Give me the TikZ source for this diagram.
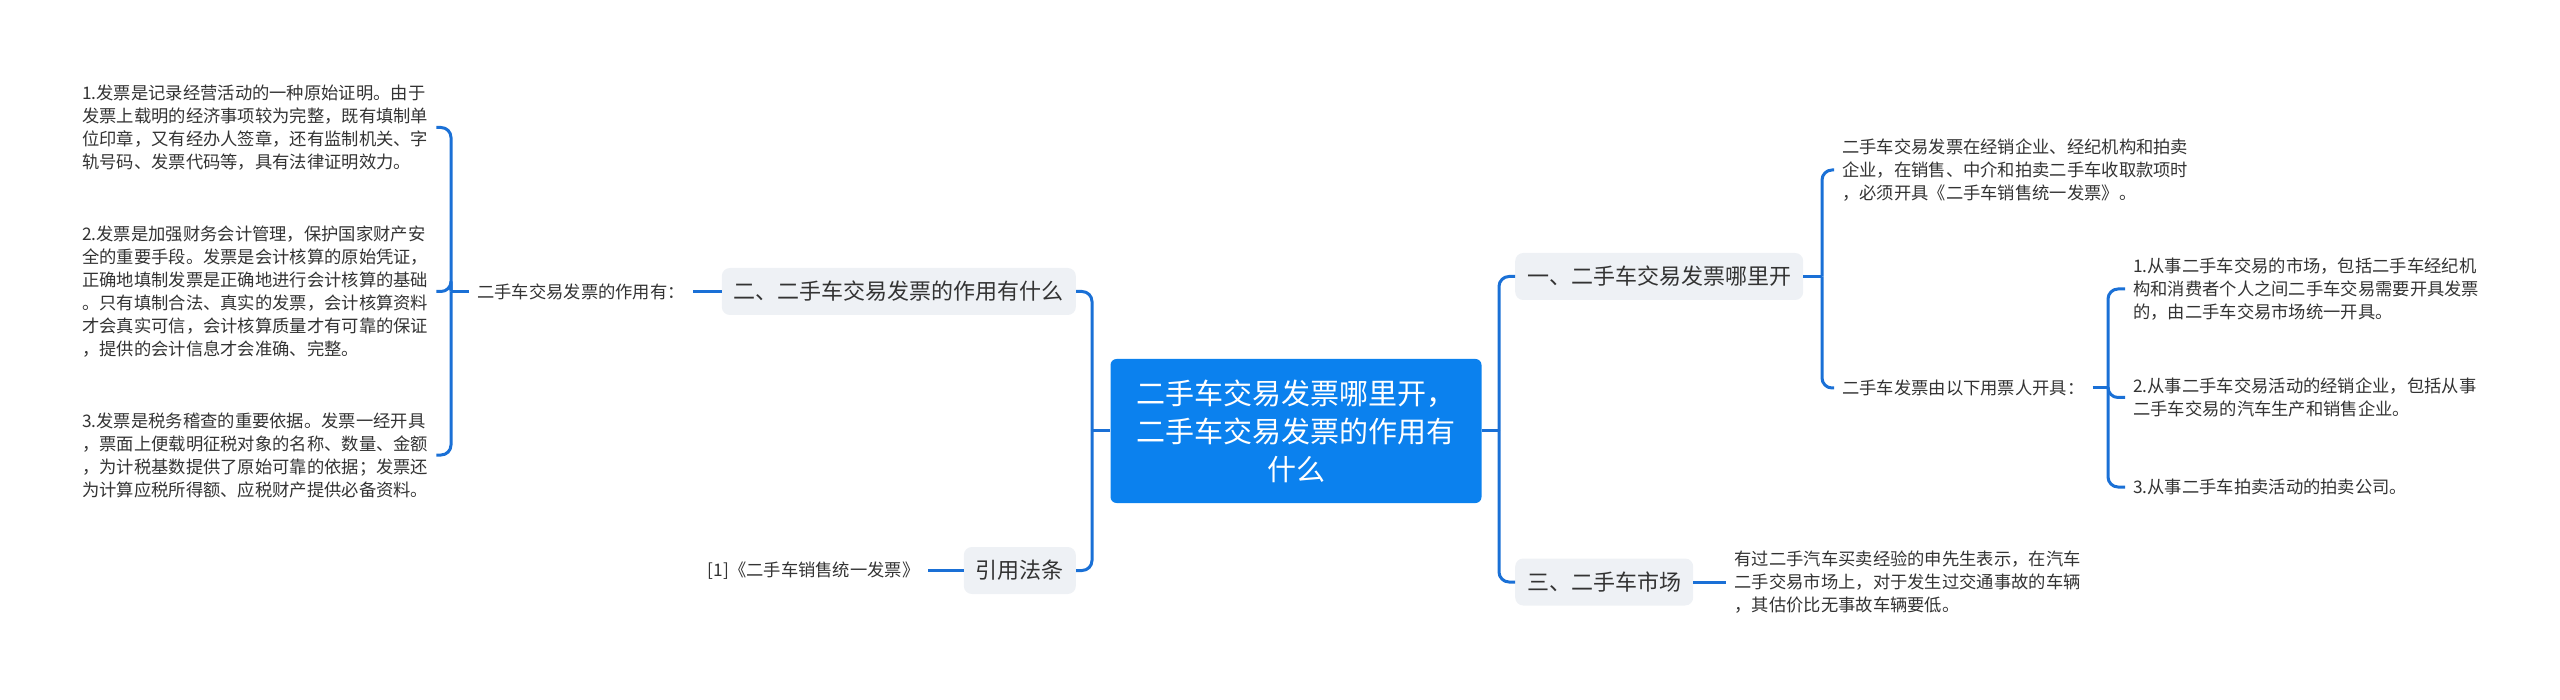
\documentclass[tikz,border=0pt]{standalone}
\usepackage{fontspec}
\setmainfont{Noto Sans CJK SC}
\usepackage{tikz}
\usetikzlibrary{positioning,calc}
\definecolor{rootblue}{HTML}{0B81EE}
\definecolor{linkblue}{HTML}{1A70D6}
\definecolor{topicbg}{HTML}{EEF1F5}
\definecolor{darktext}{HTML}{333333}
\tikzset{
  rootnode/.style={fill=rootblue,rounded corners=6pt,minimum width=371pt,minimum height=144pt,align=center,text=white,font=\fontsize{29}{38}\selectfont},
  topicnode/.style={fill=topicbg,rounded corners=8pt,minimum height=47pt,inner xsep=12pt,text=darktext,font=\fontsize{22}{26}\selectfont},
  leafnode/.style={inner xsep=8pt,inner ysep=2pt,align=left,text=darktext,font=\fontsize{17.3}{23}\selectfont},
  link/.style={draw=linkblue,line width=3pt,rounded corners=10pt}
}
\begin{document}
\begin{tikzpicture}[x=1pt,y=-1pt]
  \useasboundingbox (0,0) rectangle (2560,700);
  \node[rootnode] (root) at (1296,431) {二手车交易发票哪里开，\\二手车交易发票的作用有\\什么};

  % Left side: effect and law
  \node[topicnode,anchor=east] (effect) at (1076,291.5) {二、二手车交易发票的作用有什么};
  \node[topicnode,anchor=east] (law) at (1076,570.5) {引用法条};
  \node[leafnode,anchor=west] (effectsum) at (469,291.5) {二手车交易发票的作用有：};
  \node[leafnode,left=36pt of law] (lawref) {[1]《二手车销售统一发票》};
  \node[leafnode,anchor=west] (eone) at (74,127.5) {1.发票是记录经营活动的一种原始证明。由于\\发票上载明的经济事项较为完整，既有填制单\\位印章，又有经办人签章，还有监制机关、字\\轨号码、发票代码等，具有法律证明效力。};
  \node[leafnode,anchor=west] (etwo) at (74,291.5) {2.发票是加强财务会计管理，保护国家财产安\\全的重要手段。发票是会计核算的原始凭证，\\正确地填制发票是正确地进行会计核算的基础\\。只有填制合法、真实的发票，会计核算资料\\才会真实可信，会计核算质量才有可靠的保证\\，提供的会计信息才会准确、完整。};
  \node[leafnode,anchor=west] (ethree) at (74,455) {3.发票是税务稽查的重要依据。发票一经开具\\，票面上便载明征税对象的名称、数量、金额\\，为计税基数提供了原始可靠的依据；发票还\\为计算应税所得额、应税财产提供必备资料。};

  % Right side: where and market
  \node[topicnode,anchor=west] (where) at (1515,276.5) {一、二手车交易发票哪里开};
  \node[topicnode,anchor=west] (market) at (1515,582) {三、二手车市场};
  \node[leafnode,right=33pt of market] (marketnote) {有过二手汽车买卖经验的申先生表示，在汽车\\二手交易市场上，对于发生过交通事故的车辆\\，其估价比无事故车辆要低。};
  \node[leafnode,anchor=west] (wherenote) at (1834,170) {二手车交易发票在经销企业、经纪机构和拍卖\\企业，在销售、中介和拍卖二手车收取款项时\\，必须开具《二手车销售统一发票》。};
  \node[leafnode,anchor=west] (issuer) at (1834,388) {二手车发票由以下用票人开具：};
  \node[leafnode,anchor=west] (sone) at (2125,289) {1.从事二手车交易的市场，包括二手车经纪机\\构和消费者个人之间二手车交易需要开具发票\\的，由二手车交易市场统一开具。};
  \node[leafnode,anchor=west] (stwo) at (2125,397.5) {2.从事二手车交易活动的经销企业，包括从事\\二手车交易的汽车生产和销售企业。};
  \node[leafnode,anchor=west] (sthree) at (2125,487) {3.从事二手车拍卖活动的拍卖公司。};

  % connectors
  \coordinate (jl) at (1092,431);
  \coordinate (jr) at (1499,431);
  \coordinate (jeffect) at (451,291.5);
  \coordinate (jwhere) at (1822,276.5);
  \coordinate (jissuer) at (2108,388);
  \draw[link] (root.west) -- (jl);
  \draw[link] (jl) |- (effect.east);
  \draw[link] (jl) |- (law.east);
  \draw[link] (root.east) -- (jr);
  \draw[link] (jr) |- (where.west);
  \draw[link] (jr) |- (market.west);
  \draw[link] (effect.west) -- (effectsum.east);
  \draw[link] (law.west) -- (lawref.east);
  \draw[link] (market.east) -- (marketnote.west);
  \draw[link] (effectsum.west) -- (jeffect);
  \foreach \leaf in {eone,etwo,ethree}
    \draw[link] (jeffect) |- (\leaf.east);
  \draw[link] (where.east) -- (jwhere);
  \draw[link] (jwhere) |- (wherenote.west);
  \draw[link] (jwhere) |- (issuer.west);
  \draw[link] (issuer.east) -- (jissuer);
  \foreach \leaf in {sone,stwo,sthree}
    \draw[link] (jissuer) |- (\leaf.west);
\end{tikzpicture}
\end{document}
